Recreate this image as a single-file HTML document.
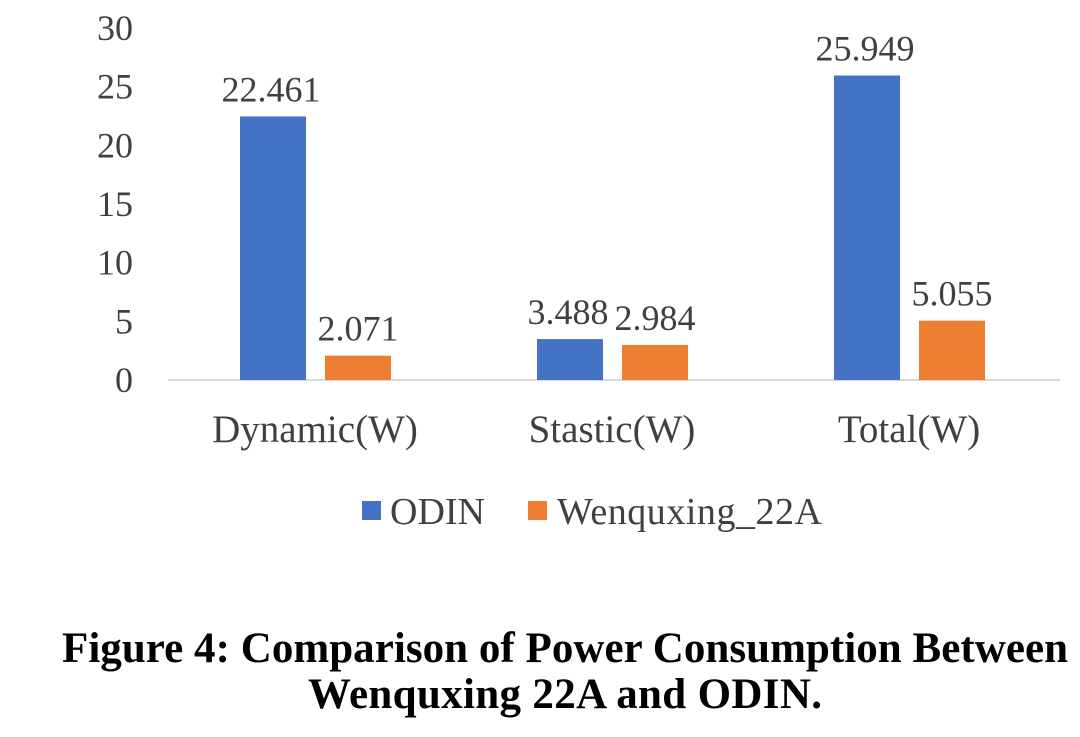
<!DOCTYPE html>
<html><head><meta charset="utf-8"><style>
body{margin:0;background:#fff;width:1080px;height:732px;overflow:hidden}
svg text{font-family:"Liberation Serif",serif}
</style></head><body>
<svg id="chart" width="1080" height="732">
<g id="plot"></g>
<g>
<rect x="362" y="501" width="19" height="19" fill="#4472C4"/>
<text x="390" y="524" font-size="38" fill="#404040">ODIN</text>
<rect x="528" y="501" width="19" height="19" fill="#ED7D31"/>
<text x="557" y="524" font-size="38" fill="#404040" textLength="265">Wenquxing_22A</text>
</g>
<text x="565" y="662" font-size="43" font-weight="bold" text-anchor="middle" fill="#000" textLength="1006">Figure 4: Comparison of Power Consumption Between</text>
<text x="565" y="708" font-size="43" font-weight="bold" text-anchor="middle" fill="#000" textLength="514">Wenquxing 22A and ODIN.</text>
</svg>
<script>
const categories=["Dynamic(W)","Stastic(W)","Total(W)"];
const odin=[22.461,3.488,25.949];
const wenquxing=[2.071,2.984,5.055];
const odinLabels=["22.461","3.488","25.949"];
const wenLabels=["2.071","2.984","5.055"];
const yTicks=[0,5,10,15,20,25,30];
const NS="http://www.w3.org/2000/svg";
const g=document.getElementById('plot');
const y0=380,yPer=(380-28)/30;
const yS=v=>y0-v*yPer;
const xC=i=>315+i*297;
function mk(t,a){const e=document.createElementNS(NS,t);for(const k in a)e.setAttribute(k,a[k]);g.appendChild(e);return e;}
yTicks.forEach(t=>{
 const e=mk('text',{x:133,y:yS(t)+12,'font-size':36,'text-anchor':'end',fill:'#404040'});
 
 
 e.textContent=t;
});
const ax=mk('line',{x1:168,x2:1060,y1:y0,y2:y0,stroke:'#d9d9d9','stroke-width':2});


categories.forEach((c,i)=>{
 const cx=xC(i);
 const b1=mk('rect',{x:cx-75,y:yS(odin[i]),width:66,height:y0-yS(odin[i]),fill:'#4472C4'});
 
 
 const b2=mk('rect',{x:cx+10,y:yS(wenquxing[i]),width:66,height:y0-yS(wenquxing[i]),fill:'#ED7D31'});
 
 
 const l1=mk('text',{x:cx-44,y:yS(odin[i])-15,'font-size':36,'text-anchor':'middle',fill:'#404040'});
 
 
 l1.textContent=odinLabels[i];
 const l2=mk('text',{x:cx+43,y:yS(wenquxing[i])-15,'font-size':36,'text-anchor':'middle',fill:'#404040'});
 
 
 l2.textContent=wenLabels[i];
 const cl=mk('text',{x:cx,y:442,'font-size':39,'text-anchor':'middle',fill:'#404040'});
 
 
 cl.textContent=c;
});
</script>
</body></html>
